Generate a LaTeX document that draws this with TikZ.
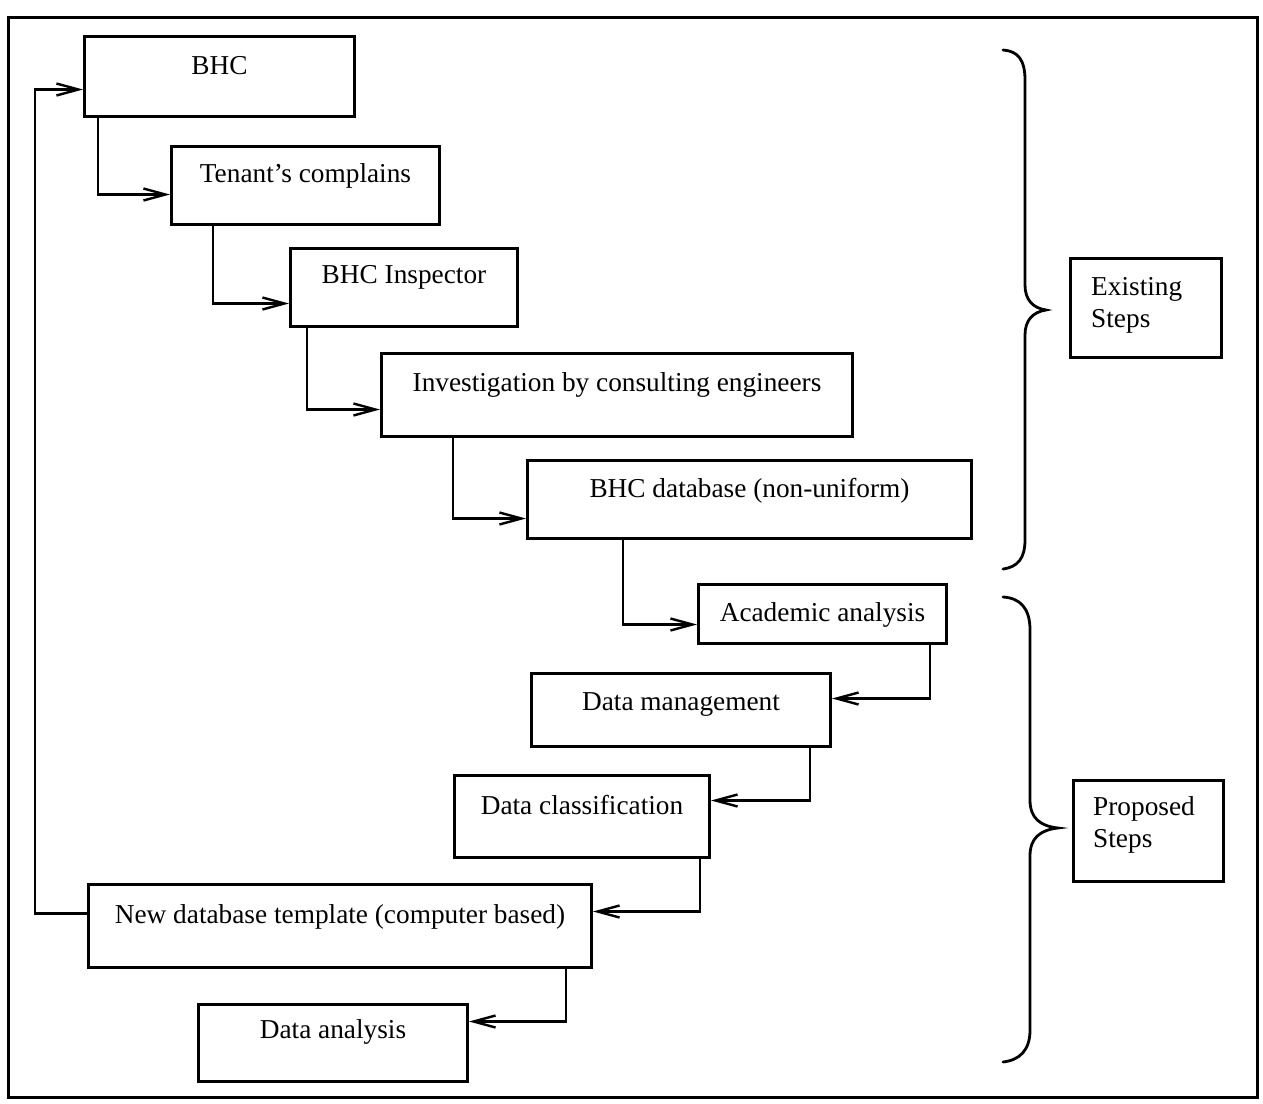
\documentclass[tikz,border=0pt]{standalone}
\usepackage{fontspec}
\setmainfont{Liberation Serif}
\usetikzlibrary{arrows.meta,calc}
\begin{document}
\begin{tikzpicture}[x=1pt,y=-1pt,
  every node/.style={font=\fontsize{27.3pt}{32pt}\selectfont},
  box/.style={draw, line width=3pt, inner sep=0pt, anchor=north west},
  sbox/.style={draw, line width=3pt, inner sep=0pt, anchor=north west},
  stxt/.style={inner sep=0pt, anchor=base west},
  conn/.style={line width=2.4pt, -{Straight Barb[length=22pt,width=12pt]}},
  brc/.style={line width=2.8pt, line cap=round},
  frm/.style={line width=3pt}]
\useasboundingbox (0,0) rectangle (1263,1103);
\draw[frm] (8,17) rectangle (1257,1097);

% process boxes
\node[box, minimum width=270pt, text height=38pt, text depth=42pt] (bhc) at (83,35) {BHC};
\node[box, minimum width=268pt, text height=36pt, text depth=42pt] (ten) at (170,145) {Tenant’s complains};
\node[box, minimum width=227pt, text height=35pt, text depth=43pt] (ins) at (289,247) {BHC Inspector};
\node[box, minimum width=471pt, text height=38pt, text depth=45pt] (inv) at (380,352) {Investigation by consulting engineers};
\node[box, minimum width=444pt, text height=37pt, text depth=41pt] (db) at (526,459) {BHC database (non-uniform)};
\node[box, minimum width=248pt, text height=37pt, text depth=22pt] (aca) at (697,583) {Academic analysis};
\node[box, minimum width=299pt, text height=37pt, text depth=36pt] (dm) at (530,672) {Data management};
\node[box, minimum width=255pt, text height=39pt, text depth=43pt] (dc) at (453,774) {Data classification};
\node[box, minimum width=503pt, text height=39pt, text depth=44pt] (nd) at (87,883) {New database template (computer based)};
\node[box, minimum width=269pt, text height=34pt, text depth=43pt] (da) at (197,1003) {Data analysis};

% side boxes
\node[sbox, minimum width=151pt, minimum height=99pt] (ex) at (1069,257) {};
\node[stxt] (extx) at ($(ex.north west)+(22,38)$) {\begin{tabular}[t]{@{}l@{}}Existing\\Steps\end{tabular}};
\node[sbox, minimum width=150pt, minimum height=101pt] (pr) at (1072,779) {};
\node[stxt] (prtx) at ($(pr.north west)+(21,36)$) {\begin{tabular}[t]{@{}l@{}}Proposed\\Steps\end{tabular}};

% connectors
\draw[conn] ([xshift=15pt]bhc.south west) |- ([yshift=-9pt]ten.west);
\draw[conn] ([xshift=43pt]ten.south west) |- ([yshift=-16pt]ins.west);
\draw[conn] ([xshift=18pt]ins.south west) |- ([yshift=-14.5pt]inv.west);
\draw[conn] ([xshift=73pt]inv.south west) |- ([yshift=-19pt]db.west);
\draw[conn] ([xshift=97pt]db.south west) |- ([yshift=-10.5pt]aca.west);
\draw[conn] ([xshift=-18pt]aca.south east) |- ([yshift=11.5pt]dm.east);
\draw[conn] ([xshift=-22pt]dm.south east) |- ([yshift=16pt]dc.east);
\draw[conn] ([xshift=-11pt]dc.south east) |- ([yshift=14.5pt]nd.east);
\draw[conn] ([xshift=-27pt]nd.south east) |- ([yshift=21.5pt]da.east);
\draw[conn] ([yshift=12.5pt]nd.west) -- ++(-52,0) |- ([yshift=-13pt]bhc.west);

% braces
\draw[brc] (1003,50) .. controls (1018,51) and (1025,60) .. (1025,80) -- (1025,285)
  .. controls (1025,300) and (1033,308) .. (1046,310)
  .. controls (1033,312) and (1025,320) .. (1025,335) -- (1025,540)
  .. controls (1025,558) and (1018,567) .. (1003,569);
\draw[brc] (1003,597) .. controls (1020,598) and (1030,608) .. (1030,630) -- (1030,800)
  .. controls (1030,818) and (1040,826) .. (1058,828)
  .. controls (1040,830) and (1030,838) .. (1030,856) -- (1030,1030)
  .. controls (1030,1050) and (1020,1060) .. (1003,1062);
\end{tikzpicture}
\end{document}
